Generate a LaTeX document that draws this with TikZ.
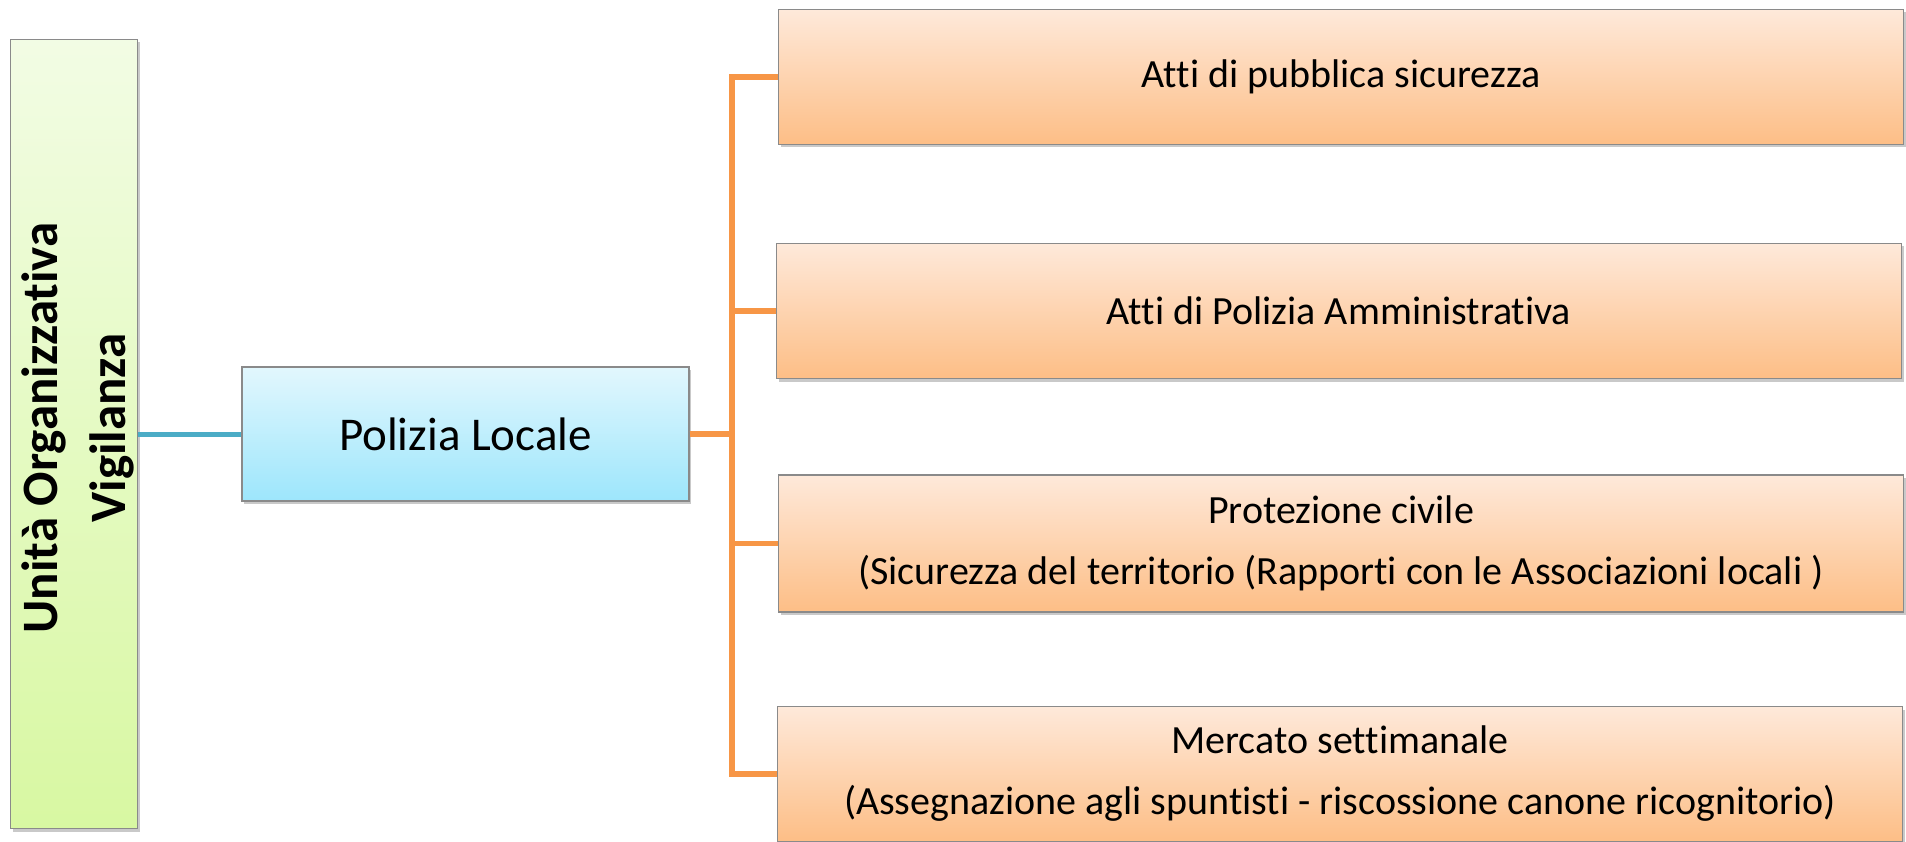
\documentclass[tikz,border=0pt]{standalone}
\usepackage{fontspec}
\setmainfont{Carlito}[Ligatures=CommonOff]
\usetikzlibrary{shadows}
\definecolor{teal1}{HTML}{4BACC6}
\definecolor{orng}{HTML}{F79646}
\definecolor{brd}{HTML}{8A8A8A}
\definecolor{gtop}{HTML}{F2FCE4}
\definecolor{gbot}{HTML}{D8F8A2}
\definecolor{btop}{HTML}{E2F7FD}
\definecolor{bbot}{HTML}{9DE6FC}
\definecolor{otop}{HTML}{FEE9DA}
\definecolor{obot}{HTML}{FDBE86}
\tikzset{
  boxbase/.style={draw=brd, line width=1.2pt, inner sep=0pt, align=center,
    drop shadow={shadow xshift=2pt, shadow yshift=-3pt, opacity=0.35, fill=black!60}},
  greenbox/.style={boxbase, top color=gtop, bottom color=gbot, minimum width=127pt, minimum height=789pt},
  bluebox/.style={boxbase, top color=btop, bottom color=bbot, minimum width=447pt, minimum height=134pt,
    font=\fontsize{47}{56}\selectfont},
  orangebox/.style={boxbase, top color=otop, bottom color=obot, minimum width=1125pt, minimum height=135pt,
    font=\fontsize{40}{61}\selectfont},
  tealline/.style={draw=teal1, line width=5pt},
  orangeline/.style={draw=orng, line width=5.5pt, line join=miter}
}
\begin{document}
\begin{tikzpicture}[x=1pt,y=-1pt]
\useasboundingbox (0,0) rectangle (1906,842);
\fill[white] (0,0) rectangle (1906,842);
\node[greenbox] (uo) at (74,434) {};
\node[rotate=90, align=center, font=\bfseries\fontsize{51}{68}\selectfont] (uot) at (78,428) {Unità Organizzativa\\Vigilanza};
\node[bluebox] (pl) at (465.5,434) {Polizia Locale};
\node[orangebox] (b1) at (1341,77) {Atti di pubblica sicurezza};
\node[orangebox] (b2) at (1339,311) {Atti di Polizia Amministrativa};
\node[orangebox, minimum height=137pt] (b3) at (1341,543.5) {Protezione civile\\(Sicurezza del territorio (Rapporti con le Associazioni locali )};
\node[orangebox, minimum height=135pt] (b4) at (1340,774) {Mercato settimanale\\(Assegnazione agli spuntisti - riscossione canone ricognitorio)};
\coordinate (trunk) at (732,0);
\draw[tealline] (uo.east |- pl.west) -- (pl.west);
\foreach \b in {b1,b2,b3,b4}{
  \draw[orangeline] (pl.east) -- (pl.east -| trunk) |- (\b.west);
}
\end{tikzpicture}
\end{document}
